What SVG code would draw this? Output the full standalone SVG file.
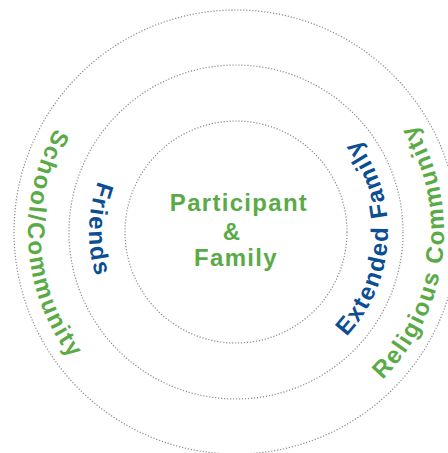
<svg xmlns="http://www.w3.org/2000/svg" xmlns:xlink="http://www.w3.org/1999/xlink" width="448" height="453" viewBox="0 0 448 453">
<style>
.ring{fill:none;stroke:#8a8a8a;stroke-width:1.2;stroke-dasharray:1.2 1.8}
.lbl{font-family:"Liberation Sans",Arial,sans-serif;font-weight:bold;font-size:24px;letter-spacing:1.3px}
.arc{letter-spacing:1.7px}
.g{fill:#5aab46}
.b{fill:#0b4e94}
</style>
<defs>
<path id="pFriends" d="M236,85 A147,147 0 0 0 236,379 A147,147 0 0 0 236,85"/>
<path id="pExt" d="M236,80 A152,152 0 0 0 236,384 A152,152 0 0 0 236,80"/>
<path id="pOuter" d="M236,24 A208,208 0 0 0 236,440 A208,208 0 0 0 236,24"/>
</defs>
<g id="rings">
<circle class="ring" cx="236" cy="232" r="222"/>
<circle class="ring" cx="236" cy="232" r="167"/>
<circle class="ring" cx="236" cy="232" r="111"/>
</g>
<g id="center">
<text class="lbl g" x="239" y="211" text-anchor="middle">Participant</text>
<text class="lbl g" x="232" y="240" text-anchor="middle">&amp;</text>
<text class="lbl g" x="236" y="266" text-anchor="middle">Family</text>
</g>
<g id="friends">
<text class="lbl arc b" text-anchor="middle"><textPath xlink:href="#pFriends" href="#pFriends" startOffset="24.7%">Friends</textPath></text>
</g>
<g id="extended-family">
<text class="lbl arc b" text-anchor="middle"><textPath xlink:href="#pExt" href="#pExt" startOffset="74.25%">Extended Family</textPath></text>
</g>
<g id="school-community">
<text class="lbl arc g" text-anchor="middle"><textPath xlink:href="#pOuter" href="#pOuter" startOffset="26.1%">School/Community</textPath></text>
</g>
<g id="religious-community">
<text class="lbl arc g" text-anchor="middle"><textPath xlink:href="#pOuter" href="#pOuter" startOffset="73.1%">Religious Community</textPath></text>
</g>
</svg>
